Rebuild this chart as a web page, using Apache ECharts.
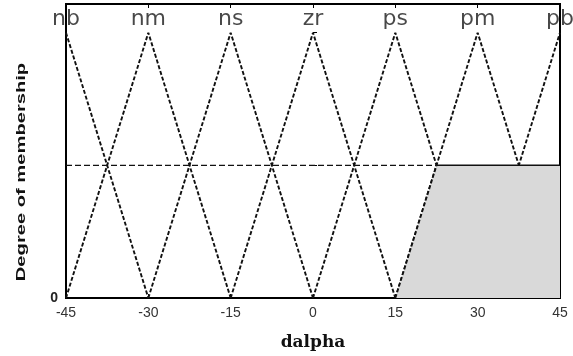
<!DOCTYPE html>
<html>
<head>
<meta charset="utf-8">
<script src="https://cdn.jsdelivr.net/npm/echarts@6/dist/echarts.min.js"></script>
<style>
  html, body { margin: 0; padding: 0; background: #fff; }
  #chart { width: 573px; height: 356px; }
</style>
</head>
<body>
<div id="chart"></div>
<script>
// Fuzzy sets for dalpha: names and triangle breakpoints [x, membership]
const setNames = ['nb', 'nm', 'ns', 'zr', 'ps', 'pm', 'pb'];
const setPeaks = [-45, -30, -15, 0, 15, 30, 45];
const nbPts = [[-45, 1], [-30, 0]];
const nmPts = [[-45, 0], [-30, 1], [-15, 0]];
const nsPts = [[-30, 0], [-15, 1], [0, 0]];
const zrPts = [[-15, 0], [0, 1], [15, 0]];
const psPts = [[0, 0], [15, 1], [30, 0]];
const pmPts = [[15, 0], [30, 1], [45, 0]];
const pbPts = [[30, 0], [45, 1]];
const setPoints = [nbPts, nmPts, nsPts, zrPts, psPts, pmPts, pbPts];

// Alpha-cut level and the clipped (shaded) region of pm ∪ pb
const cutDashed = [[-45, 0.5], [22.5, 0.5]];
const cutSolid = [[22.5, 0.5], [45, 0.5]];
const shadedPts = [[15, 0], [22.5, 0.5], [45, 0.5]];
const shadedEdge = [[15, 0], [22.5, 0.5]];

// Axis ticks
const xTicks = [-45, -30, -15, 0, 15, 30, 45];
const yTickLabels = ['0'];

const chart = echarts.init(document.getElementById('chart'));

const lineColor = '#111';
const dashStyle = { color: lineColor, width: 1.9, type: [4, 2] };

const series = [];
setPoints.forEach(function (pts) {
  series.push({
    type: 'line',
    data: pts,
    symbol: 'none',
    lineStyle: dashStyle,
    z: 2
  });
});
series.push({
  type: 'line',
  data: cutDashed,
  symbol: 'none',
  lineStyle: { color: lineColor, width: 1.3, type: [6, 3] },
  z: 2
});
// clipped output area sits over the membership lines beneath the cut
series.push({
  type: 'line',
  data: shadedPts,
  symbol: 'none',
  lineStyle: { width: 0 },
  areaStyle: { color: '#d9d9d9', opacity: 1 },
  z: 5,
  silent: true
});
series.push({
  type: 'line',
  data: shadedEdge,
  symbol: 'none',
  lineStyle: dashStyle,
  z: 6
});
series.push({
  type: 'line',
  data: cutSolid,
  symbol: 'none',
  lineStyle: { color: lineColor, width: 1.5 },
  z: 6
});
series.push({
  type: 'scatter',
  data: setPeaks.map(function (p, i) { return { name: setNames[i], value: [p, 1] }; }),
  symbolSize: 0,
  clip: false,
  label: {
    show: true,
    position: 'top',
    distance: 2,
    formatter: '{b}',
    fontFamily: 'DejaVu Sans',
    fontSize: 22,
    color: '#1a1a1a'
  },
  z: 7
});

chart.setOption({
  animation: false,
  backgroundColor: '#fff',
  grid: {
    left: 66, right: 13, top: 4, bottom: 55,
    show: true, borderColor: '#000', borderWidth: 2, backgroundColor: 'transparent'
  },
  xAxis: [{
    type: 'value',
    min: -45, max: 45, interval: 15,
    position: 'bottom',
    name: 'dalpha',
    nameLocation: 'middle',
    nameGap: 36,
    nameTextStyle: { fontFamily: 'DejaVu Serif', fontWeight: 'bold', fontSize: 17, color: '#111' },
    axisLine: { show: false },
    axisTick: { show: true, inside: true, length: 4, lineStyle: { color: '#000' } },
    axisLabel: {
      margin: 8, fontFamily: 'Liberation Sans', fontSize: 14, color: '#333',
      formatter: function (v) { return xTicks.indexOf(v) >= 0 ? String(v) : ''; }
    },
    splitLine: { show: false }
  }, {
    type: 'value',
    min: -45, max: 45, interval: 15,
    position: 'top',
    axisLine: { show: false },
    axisTick: { show: true, inside: true, length: 4, lineStyle: { color: '#000' } },
    axisLabel: { show: false },
    splitLine: { show: false }
  }],
  yAxis: {
    type: 'value',
    min: 0, max: 1.108, interval: 0.5,
    axisLine: { show: false },
    axisTick: { show: true, inside: true, length: 4, lineStyle: { color: '#000' } },
    axisLabel: {
      margin: 8, fontFamily: 'Liberation Sans', fontWeight: 'bold', fontSize: 14, color: '#222',
      showMaxLabel: false,
      formatter: function (v) { return v === 0 ? yTickLabels[0] : ''; }
    },
    splitLine: { show: false }
  },
  graphic: [{
    type: 'text',
    x: 21, y: 172,
    rotation: Math.PI / 2,
    scaleX: 1.55,
    style: {
      text: 'Degree of membership',
      font: 'bold 13px "Liberation Sans"',
      textAlign: 'center',
      textVerticalAlign: 'middle',
      fill: '#111'
    }
  }],
  series: series
});
</script>
</body>
</html>
